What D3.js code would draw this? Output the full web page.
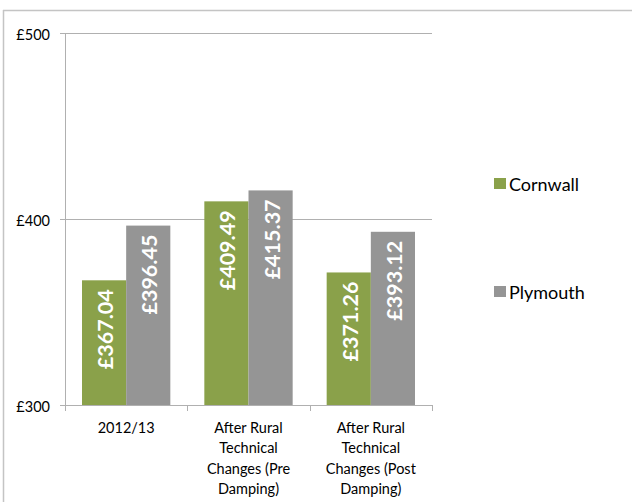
<!DOCTYPE html>
<html><head><meta charset="utf-8">
<script src="https://cdn.jsdelivr.net/npm/d3@7"></script>
<style>body{margin:0;background:#fff;} text{font-family:Lato, "Open Sans", sans-serif;}</style>
</head><body>
<script>
const categories = [["2012/13"], ["After Rural","Technical","Changes (Pre","Damping)"], ["After Rural","Technical","Changes (Post","Damping)"]];
const seriesNames = ["Cornwall", "Plymouth"];
const cornwall = [367.04, 409.49, 371.26];
const plymouth = [396.45, 415.37, 393.12];
const yTicks = [300, 400, 500];
const colors = ["#8aa14a", "#959595"];

const W = 632, H = 502;
const svg = d3.select("body").append("svg").attr("width", W).attr("height", H);

// outer border
svg.append("line").attr("x1",3.5).attr("x2",3.5).attr("y1",10).attr("y2",H).attr("stroke","#c4c4c4").attr("stroke-width",1.5);
svg.append("line").attr("x1",3).attr("x2",W).attr("y1",10.5).attr("y2",10.5).attr("stroke","#c4c4c4").attr("stroke-width",1.5);

const pL = 65, pR = 432, pT = 33, pB = 405;
const y = d3.scaleLinear().domain([300, 500]).range([pB, pT]);
const x0 = d3.scaleBand().domain(d3.range(categories.length)).range([pL, pR]).paddingInner(0).paddingOuter(0);
const x1 = d3.scaleBand().domain(seriesNames).range([17, x0.bandwidth() - 17]).padding(0);

// gridlines
svg.append("g").selectAll("line").data(yTicks).join("line")
  .attr("x1", pL - 5).attr("x2", pR).attr("y1", d => Math.round(y(d)) + 0.5).attr("y2", d => Math.round(y(d)) + 0.5)
  .attr("stroke", "#b0b0b0").attr("stroke-width", 1);
svg.append("g").selectAll("text").data(yTicks).join("text")
  .attr("x", 50).attr("y", d => y(d) + 6.5).attr("text-anchor", "end").attr("font-size", 14.5).attr("fill", "#000")
  .text(d => "£" + d);

// y axis
svg.append("line").attr("x1", pL + 0.5).attr("x2", pL + 0.5).attr("y1", pT).attr("y2", pB).attr("stroke", "#b0b0b0");

const data = categories.map((c, i) => ({i, vals: [cornwall[i], plymouth[i]]}));
const g = svg.append("g");
data.forEach(d => {
  d.vals.forEach((v, j) => {
    const bx = x0(d.i) + x1(seriesNames[j]);
    const bw = x1.bandwidth();
    g.append("rect").attr("x", bx).attr("y", y(v)).attr("width", bw).attr("height", pB - y(v)).attr("fill", colors[j]);
    g.append("text")
      .attr("transform", `translate(${bx + bw/2 + 9},${y(v) + 9}) rotate(-90)`)
      .attr("text-anchor", "end").attr("font-size", 21.5).attr("font-weight", "bold").attr("fill", "#fff")
      .text("£" + v.toFixed(2));
  });
});

// x axis line and ticks
svg.append("line").attr("x1", pL).attr("x2", pR).attr("y1", pB + 0.5).attr("y2", pB + 0.5).attr("stroke", "#b0b0b0");
svg.append("g").selectAll("line").data(d3.range(categories.length + 1)).join("line")
  .attr("x1", i => Math.round(pL + i * x0.bandwidth()) + 0.5).attr("x2", i => Math.round(pL + i * x0.bandwidth()) + 0.5)
  .attr("y1", pB).attr("y2", pB + 6).attr("stroke", "#b0b0b0");

// category labels
categories.forEach((lines, i) => {
  const t = svg.append("text").attr("text-anchor", "middle").attr("font-size", 14.5).attr("fill", "#000");
  lines.forEach((ln, k) => {
    t.append("tspan").attr("x", x0(i) + x0.bandwidth()/2).attr("y", 433 + k * 20.3).text(ln);
  });
});

// legend
seriesNames.forEach((n, j) => {
  const ly = [178, 286][j];
  svg.append("rect").attr("x", 494).attr("y", ly).attr("width", 12).attr("height", 11).attr("fill", colors[j]);
  svg.append("text").attr("x", 509).attr("y", ly + 13).attr("font-size", 18).attr("fill", "#000").text(n);
});
</script>
</body></html>
